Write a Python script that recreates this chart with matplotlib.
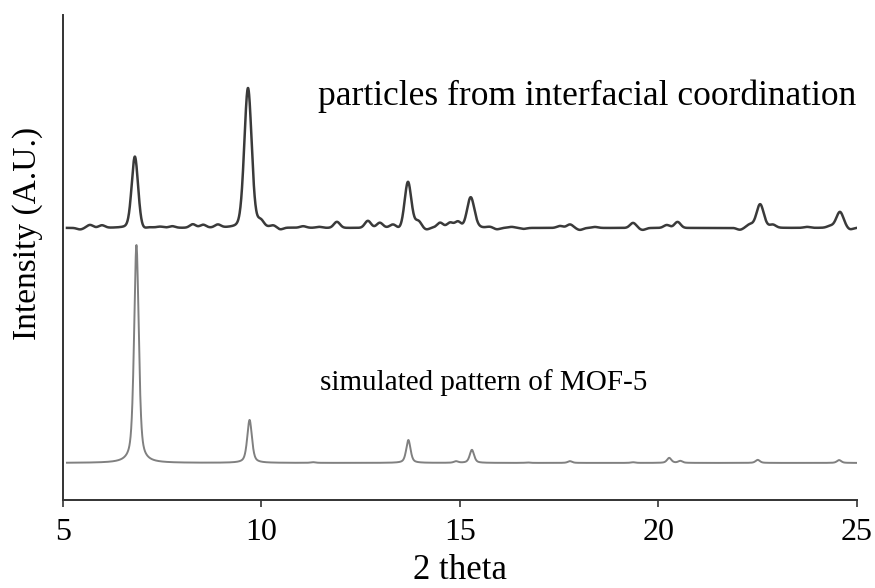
import matplotlib.pyplot as plt
import numpy as np

# simulated MOF-5 pattern: peak positions (2 theta), relative intensities (%), FWHM (deg)
SIM_POS = [6.85, 9.70, 11.30, 13.70, 14.90, 15.30, 16.70, 17.77, 19.36, 20.27, 20.55, 22.50, 24.55]
SIM_INT = [100.0, 19.7, 0.3, 10.5, 0.7, 6.0, 0.2, 0.8, 0.3, 2.3, 0.9, 1.4, 1.3]
SIM_FWHM = [0.14, 0.14, 0.14, 0.13, 0.13, 0.13, 0.13, 0.13, 0.13, 0.13, 0.13, 0.13, 0.13]

# measured pattern of the particles: main reflections
MEAS_POS = [6.81, 9.66, 13.69, 15.27, 22.56, 24.57]
MEAS_INT = [51.0, 100.0, 33.0, 22.0, 17.0, 11.5]
MEAS_FWHM = [0.19, 0.22, 0.20, 0.22, 0.22, 0.22]

# measured pattern: background wiggles
NOISE_POS = [5.43, 5.68, 5.98, 7.02, 7.45, 7.75, 8.27, 8.53, 8.90, 9.98, 10.30, 10.47,
             11.05, 11.45, 11.90, 12.68, 12.98, 13.31, 13.50, 13.95, 14.15, 14.50, 14.75,
             14.95, 15.08, 15.75, 15.93, 16.30, 16.60, 17.52, 17.77, 18.02, 18.40, 19.36,
             19.60, 20.21, 20.48, 22.05, 22.30, 22.88, 23.74, 24.32, 24.82]
NOISE_INT = [-1.1, 2.1, 1.8, -1.4, 0.7, 1.1, 2.5, 2.1, 2.1, 4.3, 1.4, -1.4,
             1.1, 0.7, 4.3, 5.0, 3.6, 2.1, -1.4, 4.3, -1.4, 3.6, 3.6,
             4.3, -0.7, 0.7, -1.1, 0.7, -0.7, 1.4, 2.5, -1.4, 0.7, 3.6,
             -1.4, 2.1, 4.3, -1.4, 2.1, 2.1, 0.7, 1.1, -1.4]
NOISE_FWHM = 0.18

SIM_OFFSET = 17.0
MEAS_OFFSET = 124.8
MEAS_SCALE = 0.642


def pseudo_voigt(x, pos, height, fwhm, eta):
    g = np.exp(-4 * np.log(2) * ((x - pos) / fwhm) ** 2)
    lor = 1.0 / (1.0 + 4 * ((x - pos) / fwhm) ** 2)
    return height * (eta * lor + (1 - eta) * g)


def pattern(x, positions, heights, widths, eta):
    y = np.zeros_like(x)
    for p, h, w in zip(positions, heights, widths):
        y += pseudo_voigt(x, p, h, w, eta)
    return y


two_theta = np.linspace(5.1, 25.0, 4000)
sim = pattern(two_theta, SIM_POS, SIM_INT, SIM_FWHM, eta=0.55)
meas = pattern(two_theta, MEAS_POS, MEAS_INT, MEAS_FWHM, eta=0.2)
meas += pattern(two_theta, NOISE_POS, NOISE_INT, [NOISE_FWHM] * len(NOISE_POS), eta=0.0)

plt.rcParams['font.family'] = ['Liberation Serif', 'DejaVu Serif']

fig = plt.figure(figsize=(8.75, 5.88), dpi=100)
ax = fig.add_axes([0.072, 0.1497, 0.9074, 0.8248])

ax.plot(two_theta, meas * MEAS_SCALE + MEAS_OFFSET, color='#3a3a3a', lw=1.8)
ax.plot(two_theta, sim + SIM_OFFSET, color='#808080', lw=1.4)

ax.set_xlim(5, 25)
ax.set_ylim(0, 222.5)
ax.set_xticks([5, 10, 15, 20, 25])
ax.set_yticks([])
ax.tick_params(axis='x', direction='out', length=5, width=1.2, color='#333333',
               labelsize=23, pad=8)
for side in ['top', 'right']:
    ax.spines[side].set_visible(False)
for side in ['left', 'bottom']:
    ax.spines[side].set_color('#333333')
    ax.spines[side].set_linewidth(1.4)

ax.set_xlabel('2 theta', fontsize=25, labelpad=5)
fig.text(0.032, 1 - 233 / 588, 'Intensity (A.U.)', rotation=90, fontsize=24,
         ha='center', va='center')

ax.text(11.42, MEAS_OFFSET + 56.5, 'particles from interfacial coordination',
        fontsize=25.5, ha='left', va='baseline')
ax.text(11.47, SIM_OFFSET + 33.5, 'simulated pattern of MOF-5',
        fontsize=21, ha='left', va='baseline')

fig.savefig('out.png', dpi=100)
